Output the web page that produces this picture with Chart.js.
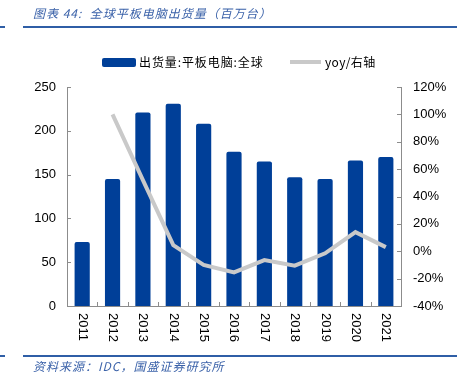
<!DOCTYPE html>
<html>
<head>
<meta charset="utf-8">
<script src="https://cdn.jsdelivr.net/npm/chart.js@4.4.1/dist/chart.umd.min.js"></script>
<style>
  html, body { margin: 0; padding: 0; background: #fff; }
  #wrap { position: relative; width: 461px; height: 374px; overflow: hidden; }
  #c { position: absolute; left: 0; top: 0; }
  .hline { position: absolute; height: 2px; background: #2f5ea6; }
  .cjk { position: absolute; font-family: "Noto Sans CJK SC", sans-serif; font-style: italic; color: #3b62a9; font-size: 12px; letter-spacing: 1px; white-space: nowrap; line-height: 14px; }
  .leg { position: absolute; font-family: "Noto Sans CJK SC", "Liberation Sans", sans-serif; font-size: 12px; color: #000; white-space: nowrap; line-height: 14px; }
</style>
</head>
<body>
<div id="wrap">
  <canvas id="c" width="461" height="374"></canvas>
  <div class="cjk" style="left:33px; top:6px;">图表 44:&nbsp; 全球平板电脑出货量（百万台）</div>
  <div class="hline" style="left:0; width:5px; top:26px;"></div>
  <div class="hline" style="left:23px; width:434px; top:26px;"></div>

  <div style="position:absolute; left:102px; top:58px; width:34px; height:9px; background:#003f98; border-radius:2px;"></div>
  <div class="leg" style="left:139px; top:55px; letter-spacing:0.9px;">出货量:平板电脑:全球</div>
  <div style="position:absolute; left:290px; top:60px; width:31px; height:4px; background:#c9c9c9;"></div>
  <div class="leg" style="left:325px; top:55px; letter-spacing:0.4px;">yoy/右轴</div>

  <div class="hline" style="left:0; width:5px; top:355px;"></div>
  <div class="hline" style="left:23px; width:434px; top:355px;"></div>
  <div class="cjk" style="left:33px; top:359px;">资料来源：IDC，国盛证券研究所</div>
</div>
<script>
const categories = ['2011','2012','2013','2014','2015','2016','2017','2018','2019','2020','2021'];
const shipments = [73, 145, 221, 231, 208, 176, 165, 147, 145, 166, 170];
const yoy = [null, 100, 52, 4.5, -10, -15.5, -6.5, -10.5, -1.5, 14, 3];
const leftTicks = [0, 50, 100, 150, 200, 250];
const rightTicks = [-40, -20, 0, 20, 40, 60, 80, 100, 120];

const tickFont = { family: 'Liberation Sans', size: 13 };

const decor = {
  id: 'decor',
  afterDraw(chart) {
    const ctx = chart.ctx;
    const xs = chart.scales.x, ys = chart.scales.y, ys1 = chart.scales.y1;
    const a = chart.chartArea;
    ctx.save();
    ctx.strokeStyle = '#8c8c8c';
    ctx.lineWidth = 1;
    ctx.beginPath();
    leftTicks.forEach(v => {
      const py = Math.round(ys.getPixelForValue(v)) + 0.5;
      ctx.moveTo(a.left, py); ctx.lineTo(a.left + 4, py);
    });
    rightTicks.forEach(v => {
      const py = Math.round(ys1.getPixelForValue(v)) + 0.5;
      ctx.moveTo(a.right - 4, py); ctx.lineTo(a.right, py);
    });
    for (let i = 1; i < categories.length; i++) {
      const px = Math.round((xs.getPixelForTick(i - 1) + xs.getPixelForTick(i)) / 2) + 0.5;
      ctx.moveTo(px, a.bottom - 4); ctx.lineTo(px, a.bottom);
    }
    ctx.stroke();
    ctx.fillStyle = '#000';
    ctx.font = '13px "Liberation Sans"';
    ctx.textAlign = 'left';
    ctx.textBaseline = 'middle';
    categories.forEach((lab, i) => {
      const px = xs.getPixelForTick(i);
      ctx.save();
      ctx.translate(px, a.bottom + 7);
      ctx.rotate(Math.PI / 2);
      ctx.fillText(lab, 0, 0);
      ctx.restore();
    });
    ctx.restore();
  }
};

new Chart(document.getElementById('c'), {
  type: 'bar',
  data: {
    labels: categories,
    datasets: [
      {
        type: 'line',
        label: 'yoy/右轴',
        data: yoy,
        yAxisID: 'y1',
        borderColor: '#c9c9c9',
        backgroundColor: '#c9c9c9',
        borderWidth: 4,
        pointRadius: 0,
        tension: 0,
        spanGaps: false,
        order: 0
      },
      {
        type: 'bar',
        label: '出货量:平板电脑:全球',
        data: shipments,
        yAxisID: 'y',
        backgroundColor: '#003f98',
        borderRadius: 2,
        categoryPercentage: 1,
        barPercentage: 0.5,
        order: 1
      }
    ]
  },
  options: {
    responsive: false,
    animation: false,
    maintainAspectRatio: false,
    layout: { padding: { top: 87, left: 0, right: 0, bottom: 0 } },
    plugins: { legend: { display: false }, tooltip: { enabled: false } },
    scales: {
      x: {
        grid: { display: false, drawTicks: false },
        border: { display: true, color: '#8c8c8c' },
        ticks: { display: false },
        afterFit: s => { s.height = 68; }
      },
      y: {
        position: 'left',
        min: 0, max: 250,
        afterBuildTicks: s => { s.ticks = leftTicks.map(v => ({ value: v })); },
        ticks: { font: tickFont, color: '#000', padding: 11 },
        grid: { display: false, drawTicks: false },
        border: { display: true, color: '#8c8c8c' },
        afterFit: s => { s.width = 67; }
      },
      y1: {
        position: 'right',
        min: -40, max: 120,
        afterBuildTicks: s => { s.ticks = rightTicks.map(v => ({ value: v })); },
        ticks: { font: tickFont, color: '#000', padding: 12, callback: v => v + '%' },
        grid: { display: false, drawTicks: false },
        border: { display: true, color: '#8c8c8c' },
        afterFit: s => { s.width = 60; }
      }
    }
  },
  plugins: [decor]
});
</script>
</body>
</html>
